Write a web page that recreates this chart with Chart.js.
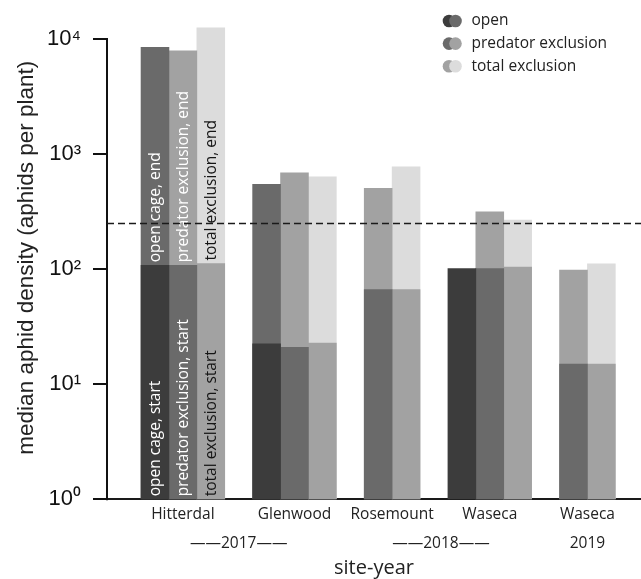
<!DOCTYPE html>
<html>
<head>
<meta charset="utf-8">
<script src="https://cdn.jsdelivr.net/npm/chart.js@4"></script>
<style>
  html, body { margin: 0; padding: 0; background: #fff; }
  #wrap { width: 641px; height: 579px; }
</style>
</head>
<body>
<div id="wrap"><canvas id="aphidChart"></canvas></div>
<script>
// sites in plotting order, and the season each was sampled
const sites = ['Hitterdal', 'Glenwood', 'Rosemount', 'Waseca', 'Waseca'];
const siteYears = ['2017', '2017', '2018', '2018', '2019'];

const treatments = ['open', 'predator exclusion', 'total exclusion'];
const cageNames = ['open cage', 'predator exclusion', 'total exclusion'];

// median aphids per plant at the start / end of caging (null = cage not used)
const openStart  = [108, 22.4, null, 101, null];
const openEnd    = [8450, 545, null, null, null];
const predStart  = [108, 20.9, 66.5, 101, 15];
const predEnd    = [7900, 688, 504, 315, 98];
const totalStart = [112, 22.8, 66.5, 104, 15];
const totalEnd   = [12500, 635, 773, 267, 111];

const threshold = 250;                 // economic threshold, aphids per plant
const yTicks = [1, 10, 100, 1000, 10000];
const labelledSite = 0;                // bars that carry the in-bar text

const startColors = ['#3c3c3c', '#6a6a6a', '#a2a2a2'];
const endColors   = ['#6a6a6a', '#a2a2a2', '#dcdcdc'];
const textColors  = ['#ffffff', '#ffffff', '#151515'];

const startVals = [openStart, predStart, totalStart];
const endVals = [openEnd, predEnd, totalEnd];

// one slot per bar, one empty slot between sites
const slotX = startVals.map(() => []);
const siteCenter = [];
let slot = 0;
sites.forEach((s, i) => {
    const first = slot;
    startVals.forEach((arr, t) => {
        if (arr[i] != null) { slotX[t][i] = slot + 0.5; slot++; }
    });
    siteCenter.push((first + slot) / 2);
    slot++;
});

// year labels centred under their sites
const years = [...new Set(siteYears)];
const yearCenter = years.map(yr => {
    const idx = siteYears.map((v, i) => v === yr ? i : -1).filter(i => i >= 0);
    return (siteCenter[idx[0]] + siteCenter[idx[idx.length - 1]]) / 2;
});
const yearText = years.map(yr => siteYears.filter(v => v === yr).length > 1 ? '——' + yr + '——' : yr);

function points(arr, t) {
    return sites.map((s, i) => ({ x: slotX[t][i], y: arr[i], site: i }))
        .filter(p => p.x != null && p.y != null);
}

const datasets = [];
// start segments first so they are painted over the end bars
treatments.forEach((name, t) => datasets.push({
    label: name + ', start', data: points(startVals[t], t), backgroundColor: startColors[t]
}));
treatments.forEach((name, t) => datasets.push({
    label: name + ', end', data: points(endVals[t], t), backgroundColor: endColors[t]
}));

const sup = ['⁰', '¹', '²', '³', '⁴'];
const xMin = -1.22, xMax = 17.92;
const textFont = '15.5px "Open Sans"';

const extras = {
    id: 'extras',
    afterDatasetsDraw(chart) {
        const { ctx, chartArea, scales: { y } } = chart;
        ctx.save();

        // text inside the first site's bars
        ctx.font = textFont;
        ctx.textAlign = 'left';
        ctx.textBaseline = 'middle';
        treatments.forEach((name, t) => {
            const k = datasets[t].data.findIndex(p => p.site === labelledSite);
            if (k < 0) return;
            const el = chart.getDatasetMeta(t).data[k];
            ctx.fillStyle = textColors[t];
            ctx.save();
            ctx.translate(el.x + 0.5, el.base - 3);
            ctx.rotate(-Math.PI / 2);
            ctx.fillText(cageNames[t] + ', start', 0, 0);
            ctx.restore();
            ctx.save();
            ctx.translate(el.x + 0.5, el.y - 3);
            ctx.rotate(-Math.PI / 2);
            ctx.fillText(cageNames[t] + ', end', 0, 0);
            ctx.restore();
        });

        // y axis spine, only over the labelled decades
        ctx.strokeStyle = '#111';
        ctx.lineWidth = 2;
        ctx.beginPath();
        ctx.moveTo(chartArea.left, y.getPixelForValue(yTicks[0]) + 1);
        ctx.lineTo(chartArea.left, y.getPixelForValue(yTicks[yTicks.length - 1]) - 1);
        ctx.stroke();

        // threshold line
        const ty = Math.round(y.getPixelForValue(threshold)) + 0.5;
        ctx.setLineDash([7, 4]);
        ctx.lineWidth = 1.5;
        ctx.strokeStyle = '#1a1a1a';
        ctx.beginPath();
        ctx.moveTo(chartArea.left, ty);
        ctx.lineTo(chartArea.right, ty);
        ctx.stroke();
        ctx.restore();
    },
    afterDraw(chart) {
        // legend with paired start/end dots
        const { ctx } = chart;
        const x0 = chart.width - 192, y0 = 21, gap = 22.6;
        ctx.save();
        ctx.font = textFont;
        ctx.textBaseline = 'middle';
        ctx.textAlign = 'left';
        treatments.forEach((name, t) => {
            const cy = y0 + t * gap;
            ctx.fillStyle = startColors[t];
            ctx.beginPath(); ctx.arc(x0, cy, 6.3, 0, Math.PI * 2); ctx.fill();
            ctx.fillStyle = endColors[t];
            ctx.beginPath(); ctx.arc(x0 + 6.5, cy, 6.3, 0, Math.PI * 2); ctx.fill();
            ctx.fillStyle = '#222';
            ctx.fillText(name, x0 + 22.5, cy);
        });
        ctx.restore();
    }
};

const labelFont = { family: 'Open Sans', size: 15.5 };

new Chart(document.getElementById('aphidChart'), {
    type: 'bar',
    data: { datasets },
    options: {
        responsive: true,
        maintainAspectRatio: false,
        animation: false,
        barPercentage: 1,
        categoryPercentage: 1,
        layout: { padding: { top: 16, left: 0, right: 0, bottom: 0 } },
        plugins: { legend: { display: false }, tooltip: { enabled: false } },
        scales: {
            x: {
                type: 'linear', min: xMin, max: xMax, stacked: true, weight: 0, offset: false,
                afterBuildTicks: axis => { axis.ticks = siteCenter.map(v => ({ value: v })); },
                afterFit: axis => { axis.height = 24; },
                ticks: { callback: (v, i) => sites[i], autoSkip: false, maxRotation: 0, padding: 5.5, font: labelFont, color: '#222' },
                grid: { display: false, drawTicks: false, offset: false },
                border: { display: true, color: '#1a1a1a', width: 2 }
            },
            xYear: {
                type: 'linear', position: 'bottom', min: xMin, max: xMax, weight: 1, offset: false,
                afterBuildTicks: axis => { axis.ticks = yearCenter.map(v => ({ value: v })); },
                afterFit: axis => { axis.height = 55.7; },
                ticks: { callback: (v, i) => yearText[i], autoSkip: false, maxRotation: 0, padding: 10.5, font: labelFont, color: '#222' },
                grid: { display: false, drawTicks: false },
                border: { display: false },
                title: { display: true, text: 'site-year', font: { family: 'Open Sans', size: 20 }, color: '#222', padding: { top: 0, bottom: -1.5 } }
            },
            y: {
                type: 'logarithmic', min: 1, max: Math.pow(10, 4.2),
                afterBuildTicks: axis => { axis.ticks = yTicks.map(v => ({ value: v })); },
                afterFit: axis => { axis.width = 107; axis.paddingTop = 0; },
                ticks: {
                    callback: v => '10' + sup[Math.round(Math.log10(v))],
                    font: { family: 'Liberation Sans', size: 22 }, color: '#111', padding: 12
                },
                grid: { display: true, drawOnChartArea: false, drawTicks: true, tickLength: 14, color: '#111', lineWidth: 2 },
                border: { display: false },
                title: { display: true, text: 'median aphid density (aphids per plant)', font: { family: 'Liberation Sans', size: 22.5 }, color: '#222', padding: { top: 13, bottom: 0 } }
            }
        }
    },
    plugins: [extras]
});
</script>
</body>
</html>
